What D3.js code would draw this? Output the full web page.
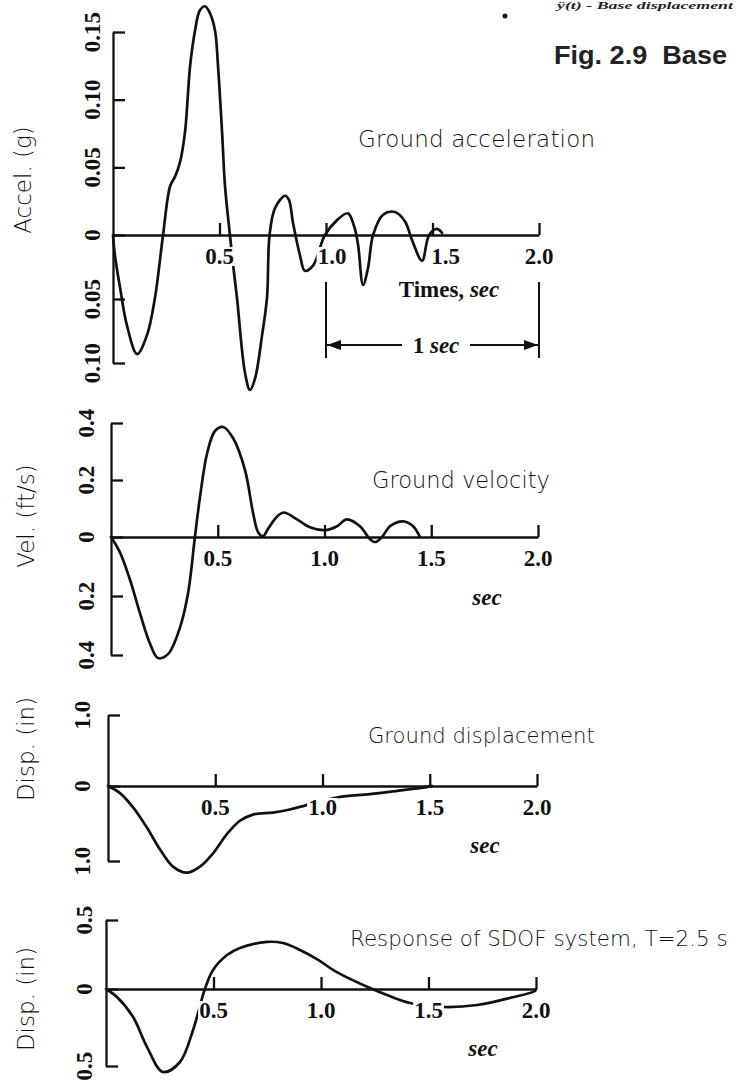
<!DOCTYPE html>
<html>
<head>
<meta charset="utf-8">
<script src="https://cdn.jsdelivr.net/npm/d3@7"></script>
<style>
  html, body { margin: 0; padding: 0; background: #fff; }
  svg { display: block; }
  .curve { fill: none; stroke: #111; stroke-width: 2.7; stroke-linejoin: round; stroke-linecap: round; }
  .axis path, .axis line { stroke: #111; stroke-width: 2.3; }
  .tick-lbl { font-family: "Liberation Serif", "Times New Roman", serif; font-weight: bold; font-size: 23px; fill: #111; }
  .ylab, .ptitle { font-family: "DejaVu Sans", sans-serif; font-weight: 200; fill: #111; }
</style>
</head>
<body>
<svg id="chart" width="738" height="1082"></svg>
<script>
// ground acceleration (g) vs time (s)
const accelT = [0, 0.009, 0.033, 0.066, 0.113, 0.160, 0.197, 0.235, 0.268, 0.291, 0.315, 0.338, 0.362, 0.385, 0.408, 0.432, 0.455, 0.479, 0.493, 0.512, 0.526, 0.549, 0.563, 0.582, 0.620, 0.643, 0.667, 0.700, 0.723, 0.735, 0.761, 0.808, 0.826, 0.845, 0.878, 0.901, 0.939, 0.995, 1.052, 1.103, 1.131, 1.150, 1.174, 1.197, 1.221, 1.268, 1.324, 1.371, 1.404, 1.451, 1.484, 1.521, 1.545];
const accelG = [0, -0.016, -0.041, -0.071, -0.093, -0.078, -0.049, 0, 0.036, 0.043, 0.054, 0.076, 0.125, 0.151, 0.166, 0.169, 0.164, 0.151, 0.125, 0.076, 0.036, 0, -0.022, -0.049, -0.108, -0.121, -0.112, -0.078, -0.049, 0, 0.020, 0.029, 0.026, 0.009, -0.016, -0.028, -0.024, 0, 0.011, 0.016, 0.007, -0.007, -0.039, -0.026, 0, 0.015, 0.017, 0.010, -0.004, -0.020, 0, 0.0045, 0.0015];

// ground velocity (ft/s)
const velT = [0, 0.042, 0.089, 0.136, 0.183, 0.220, 0.267, 0.323, 0.361, 0.393, 0.417, 0.450, 0.487, 0.525, 0.571, 0.628, 0.665, 0.689, 0.712, 0.735, 0.778, 0.810, 0.871, 0.932, 1.002, 1.059, 1.105, 1.166, 1.213, 1.237, 1.269, 1.307, 1.368, 1.415, 1.447];
const velV = [0, -0.052, -0.145, -0.259, -0.362, -0.41, -0.397, -0.307, -0.19, 0, 0.141, 0.293, 0.372, 0.386, 0.348, 0.234, 0.086, 0.017, 0.003, 0.028, 0.072, 0.086, 0.062, 0.034, 0.024, 0.038, 0.062, 0.038, -0.007, -0.017, 0, 0.038, 0.055, 0.038, 0];

// ground displacement (in)
const dispT = [0, 0.056, 0.117, 0.182, 0.242, 0.303, 0.368, 0.429, 0.490, 0.555, 0.615, 0.676, 0.769, 0.848, 0.904, 1.072, 1.221, 1.375, 1.487, 1.51];
const dispV = [0, -0.095, -0.286, -0.558, -0.844, -1.075, -1.156, -1.075, -0.898, -0.639, -0.463, -0.381, -0.354, -0.313, -0.272, -0.150, -0.109, -0.054, -0.014, 0];

// SDOF response, T = 2.5 s (in)
const sdofT = [0, 0.051, 0.126, 0.191, 0.265, 0.344, 0.405, 0.460, 0.498, 0.563, 0.623, 0.749, 0.823, 0.902, 0.981, 1.065, 1.228, 1.307, 1.414, 1.567, 1.726, 1.879, 1.995, 2.0];
const sdofV = [0, -0.052, -0.182, -0.377, -0.539, -0.474, -0.266, 0, 0.138, 0.246, 0.297, 0.341, 0.333, 0.283, 0.217, 0.130, 0.007, -0.039, -0.091, -0.117, -0.104, -0.058, -0.013, 0];

// axis ticks and labels
const timeTicks = [0.5, 1.0, 1.5, 2.0];
const timeLabels = ["0.5", "1.0", "1.5", "2.0"];
const accelTicks = [-0.10, -0.05, 0, 0.05, 0.10, 0.15];
const accelLabels = ["0.10", "0.05", "0", "0.05", "0.10", "0.15"];
const velTicks = [-0.4, -0.2, 0, 0.2, 0.4];
const velLabels = ["0.4", "0.2", "0", "0.2", "0.4"];
const dispTicks = [-1, 0, 1];
const dispLabels = ["1.0", "0", "1.0"];
const sdofTicks = [-0.5, 0, 0.5];
const sdofLabels = ["0.5", "0", "0.5"];

const yTitles = ["Accel. (g)", "Vel. (ft/s)", "Disp. (in)", "Disp. (in)"];
const panelTitles = ["Ground acceleration", "Ground velocity", "Ground displacement", "Response of SDOF system, T=2.5 s"];

const svg = d3.select('#chart');

// the scanned panels are slightly skewed, so each one has its own pixel frame
let panels = [
  { t: accelT, v: accelG, ticks: accelTicks, labels: accelLabels, x: [113, 539], y: [363, 235, 32], lx: -21, tx: 358, tb: 147, tw: 237 },
  { t: velT, v: velV, ticks: velTicks, labels: velLabels, x: [111, 538], y: [655, 537, 423], lx: -25, tx: 372, tb: 488, tw: 178 },
  { t: dispT, v: dispV, ticks: dispTicks, labels: dispLabels, x: [108, 537], y: [861, 786, 715], lx: -26, tx: 368, tb: 743, tw: 227 },
  { t: sdofT, v: sdofV, ticks: sdofTicks, labels: sdofLabels, x: [106, 536], y: [1066, 989, 920], lx: -22, tx: 350, tb: 946, tw: 378 }
];

const yTitleY = [180, 516, 749, 999];
const yTitleX = [31, 34, 34, 34];
const secPos = [null, [487, 605], [485, 853], [483, 1056]];

panels.forEach(function(p, i) {
  let x = d3.scaleLinear().domain([0, 2]).range(p.x);
  let dom = [p.ticks[0], 0, p.ticks[p.ticks.length - 1]];
  let y = d3.scaleLinear().domain(dom).range(p.y);

  let g = svg.append('g');

  // curve
  let pts = p.t.map(function(d, k) { return [d, p.v[k]]; });
  let line = d3.line()
    .x(function(d) { return x(d[0]); })
    .y(function(d) { return y(d[1]); })
    .curve(d3.curveCatmullRom.alpha(0.5));
  g.append('path').attr('class', 'curve').attr('d', line(pts));

  // x axis (ticks point up, labels below)
  let xa = d3.axisBottom(x).tickValues(timeTicks).tickSize(-12).tickSizeOuter(0).tickFormat('');
  g.append('g').attr('class', 'axis').attr('transform', 'translate(0,' + y(0) + ')').call(xa);

  // y axis (ticks point right, bracket ends)
  let ya = d3.axisLeft(y).tickValues(p.ticks).tickSize(-12).tickSizeOuter(0).tickFormat('');
  g.append('g').attr('class', 'axis').attr('transform', 'translate(' + x(0) + ',0)').call(ya);
  g.selectAll('.axis .domain').attr('fill', 'none');

  // y tick labels, rotated
  g.selectAll('.ylbl').data(p.ticks).enter().append('text')
    .attr('class', 'tick-lbl')
    .attr('text-anchor', 'middle')
    .attr('dy', '0.35em')
    .attr('transform', function(d) { return 'translate(' + (x(0) + p.lx) + ',' + y(d) + ') rotate(-90)'; })
    .text(function(d, k) { return p.labels[k]; });

  // x tick labels on a white patch that breaks the curve like the print
  let xl = g.selectAll('.xlbl').data(timeTicks).enter().append('g');
  let xt = xl.append('text')
    .attr('class', 'tick-lbl')
    .attr('text-anchor', 'middle')
    .attr('x', function(d) { return x(d) + (i === 0 && d === 1.5 ? 13 : 0) + (i === 0 && d === 1.0 ? 6 : 0); })
    .attr('y', y(0) + 29)
    .text(function(d, k) { return timeLabels[k]; });
  xt.each(function() {
    let b = this.getBBox();
    d3.select(this.parentNode).insert('rect', 'text')
      .attr('x', b.x - 1).attr('y', b.y + 3).attr('width', b.width + 2).attr('height', b.height - 6)
      .attr('fill', '#fff');
  });

  // y title
  svg.append('text').attr('class', 'ylab')
    .attr('text-anchor', 'middle')
    .attr('font-size', 23)
    .attr('transform', 'translate(' + yTitleX[i] + ',' + yTitleY[i] + ') rotate(-90)')
    .text(yTitles[i]);

  // panel title: natural glyphs, shrunk only when wider than the printed one
  let pt = svg.append('text').attr('class', 'ptitle')
    .attr('x', p.tx).attr('y', p.tb)
    .attr('font-size', 23)
    .text(panelTitles[i]);
  let w = pt.node().getComputedTextLength();
  if (w > p.tw) {
    pt.attr('font-size', 23 * p.tw / w);
  } else {
    pt.attr('textLength', p.tw).attr('lengthAdjust', 'spacing');
  }

  if (secPos[i]) {
    svg.append('text').attr('class', 'tick-lbl')
      .attr('font-style', 'italic')
      .attr('text-anchor', 'middle')
      .attr('x', secPos[i][0]).attr('y', secPos[i][1])
      .text('sec');
  }

  p.xs = x; p.ys = y;
});

// "Times, sec" and the 1 sec dimension under the acceleration panel
let p0 = panels[0];
let tl = svg.append('text').attr('class', 'tick-lbl').attr('text-anchor', 'middle')
  .attr('x', 449).attr('y', 297);
tl.append('tspan').text('Times, ');
tl.append('tspan').attr('font-style', 'italic').text('sec');

let dimY = 345;
[1.0, 2.0].forEach(function(t) {
  svg.append('line').attr('x1', p0.xs(t)).attr('x2', p0.xs(t)).attr('y1', 282).attr('y2', 358)
    .attr('stroke', '#111').attr('stroke-width', 2);
});
svg.append('defs').append('marker').attr('id', 'arr')
  .attr('viewBox', '0 0 10 10').attr('refX', 10).attr('refY', 5)
  .attr('markerWidth', 7).attr('markerHeight', 7).attr('orient', 'auto')
  .append('path').attr('d', 'M0,1.5L10,5L0,8.5Z').attr('fill', '#111');
svg.append('line').attr('x1', 402).attr('x2', p0.xs(1.0) + 1).attr('y1', dimY).attr('y2', dimY)
  .attr('stroke', '#111').attr('stroke-width', 2).attr('marker-end', 'url(#arr)');
svg.append('line').attr('x1', 470).attr('x2', p0.xs(2.0) - 1).attr('y1', dimY).attr('y2', dimY)
  .attr('stroke', '#111').attr('stroke-width', 2).attr('marker-end', 'url(#arr)');
let dl = svg.append('text').attr('class', 'tick-lbl').attr('text-anchor', 'middle')
  .attr('x', 436).attr('y', dimY + 8);
dl.append('tspan').text('1 ');
dl.append('tspan').attr('font-style', 'italic').text('sec');

// figure caption
svg.append('text')
  .attr('x', 554).attr('y', 64)
  .attr('font-family', 'Liberation Sans, Arial, sans-serif')
  .attr('font-weight', 'bold').attr('font-size', 25)
  .attr('fill', '#222')
  .style('white-space', 'pre')
  .attr('textLength', 173).attr('lengthAdjust', 'spacingAndGlyphs')
  .text('Fig. 2.9  Base');
svg.append('text')
  .attr('x', 557).attr('y', 9)
  .attr('font-family', 'Liberation Serif, serif')
  .attr('font-weight', 'bold').attr('font-style', 'italic').attr('font-size', 11)
  .attr('fill', '#222')
  .attr('textLength', 176).attr('lengthAdjust', 'spacingAndGlyphs')
  .text('ÿ(t) - Base displacement');
svg.append('circle').attr('cx', 505).attr('cy', 16).attr('r', 2.5).attr('fill', '#111');
</script>
</body>
</html>
